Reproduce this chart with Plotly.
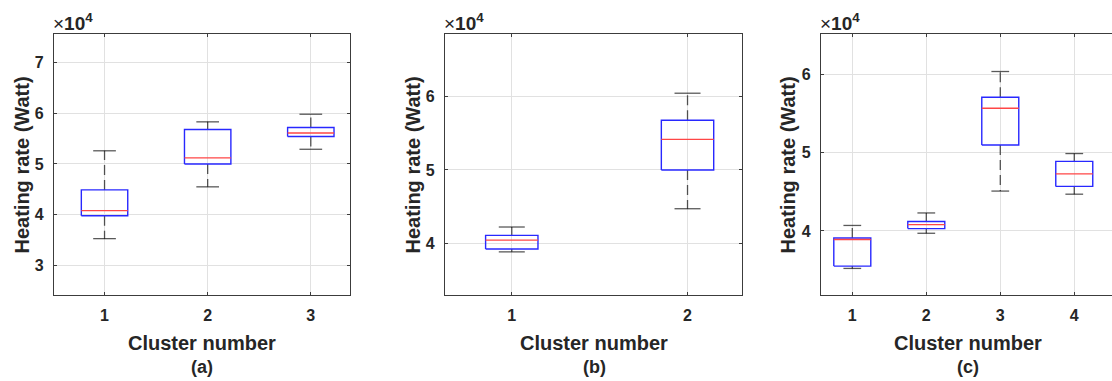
import plotly.graph_objects as go

# ---------------- data (Heating rate in Watt) ----------------
clusters_a = [1, 2, 3]
lo_a  = [35300, 45500, 52900]
q1_a  = [39800, 50000, 55400]
med_a = [40800, 51200, 56100]
q3_a  = [44900, 56800, 57200]
hi_a  = [52600, 58300, 59800]

clusters_b = [1, 2]
lo_b  = [38800, 44700]
q1_b  = [39200, 50000]
med_b = [40400, 54200]
q3_b  = [41050, 56800]
hi_b  = [42200, 60500]

clusters_c = [1, 2, 3, 4]
lo_c  = [35200, 39700, 45100, 44700]
q1_c  = [35500, 40300, 51000, 45700]
med_c = [38900, 40800, 55700, 47300]
q3_c  = [39100, 41200, 57100, 48900]
hi_c  = [40700, 42300, 60400, 49900]

yticks_a = [3, 4, 5, 6, 7]
yticks_b = [4, 5, 6]
yticks_c = [4, 5, 6]

SCALE = 1e4
panel_tags = ["(a)", "(b)", "(c)"]

# ---------------- styling ----------------
FONT = "Liberation Sans, Arial, Helvetica, sans-serif"
TXT = "#262626"
BLUE = "rgb(40,40,255)"
RED = "rgb(255,70,70)"
WHISK = "rgba(0,0,0,0.65)"
GRID = "rgb(225,225,225)"
SPINE = "rgb(60,60,60)"

panels = [
    dict(x=clusters_a, lo=lo_a, q1=q1_a, med=med_a, q3=q3_a, hi=hi_a,
         yt=yticks_a, xr=[0.51, 3.38], yr=[2.42, 7.56], dom=[54, 350],
         bw=0.225, cw=0.11, ylab_x=21.5, mirror_y=True, xc=202),
    dict(x=clusters_b, lo=lo_b, q1=q1_b, med=med_b, q3=q3_b, hi=hi_b,
         yt=yticks_b, xr=[0.62, 2.31], yr=[3.29, 6.86], dom=[445, 742],
         bw=0.149, cw=0.074, ylab_x=412.5, mirror_y=True, xc=594),
    dict(x=clusters_c, lo=lo_c, q1=q1_c, med=med_c, q3=q3_c, hi=hi_c,
         yt=yticks_c, xr=[0.577, 4.51], yr=[3.18, 6.52], dom=[821, 1112],
         bw=0.25, cw=0.12, ylab_x=787.5, mirror_y=False, xc=968),
]

W, H = 1112, 381
ytop, ybot = 34, 295
ydom = [1 - ybot / H, 1 - ytop / H]

fig = go.Figure()
layout = dict(width=W, height=H, margin=dict(l=0, r=0, t=0, b=0),
              paper_bgcolor="white", plot_bgcolor="white",
              showlegend=False, annotations=[])

for i, p in enumerate(panels):
    n = "" if i == 0 else str(i + 1)
    xa, ya = "x" + n, "y" + n
    bx, by, mx, my, wx, wy, cx, cy = [], [], [], [], [], [], [], []
    for k, c in enumerate(p["x"]):
        lo = p["lo"][k] / SCALE
        q1 = p["q1"][k] / SCALE
        md = p["med"][k] / SCALE
        q3 = p["q3"][k] / SCALE
        hi = p["hi"][k] / SCALE
        b, cw = p["bw"], p["cw"]
        bx += [c - b, c + b, c + b, c - b, c - b, None]
        by += [q1, q1, q3, q3, q1, None]
        mx += [c - b, c + b, None]
        my += [md, md, None]
        wx += [c, c, None, c, c, None]
        wy += [q3, hi, None, q1, lo, None]
        cx += [c - cw, c + cw, None, c - cw, c + cw, None]
        cy += [hi, hi, None, lo, lo, None]
    fig.add_trace(go.Scatter(x=wx, y=wy, mode="lines", xaxis=xa, yaxis=ya,
                             line=dict(color=WHISK, width=1.3, dash="10px,5px"),
                             hoverinfo="skip"))
    fig.add_trace(go.Scatter(x=cx, y=cy, mode="lines", xaxis=xa, yaxis=ya,
                             line=dict(color=WHISK, width=1.3), hoverinfo="skip"))
    fig.add_trace(go.Scatter(x=bx, y=by, mode="lines", xaxis=xa, yaxis=ya,
                             line=dict(color=BLUE, width=1.4), hoverinfo="skip"))
    fig.add_trace(go.Scatter(x=mx, y=my, mode="lines", xaxis=xa, yaxis=ya,
                             line=dict(color=RED, width=1.3), hoverinfo="skip"))

    common = dict(showline=True, linecolor=SPINE, linewidth=1.2,
                  ticks="inside", ticklen=3, tickcolor=SPINE, tickwidth=1,
                  showgrid=True, gridcolor=GRID, gridwidth=1, zeroline=False,
                  tickfont=dict(family=FONT, size=16, color=TXT, weight="bold"))
    layout["xaxis" + n] = dict(common, domain=[p["dom"][0] / W, p["dom"][1] / W],
                               range=p["xr"], tickvals=p["x"], anchor=ya,
                               mirror="ticks", ticklabelstandoff=6)
    layout["yaxis" + n] = dict(common, domain=ydom, range=p["yr"],
                               tickvals=p["yt"], anchor=xa,
                               mirror="ticks" if p["mirror_y"] else False,
                               ticklabelstandoff=6)
    xc = p["xc"] / W
    ann = layout["annotations"]
    ann.append(dict(text="Cluster number", x=xc, y=1 - 343 / H,
                    xref="paper", yref="paper", xanchor="center", yanchor="middle",
                    showarrow=False,
                    font=dict(family=FONT, size=20, color=TXT, weight="bold")))
    ann.append(dict(text=panel_tags[i], x=xc, y=1 - 367 / H,
                    xref="paper", yref="paper", xanchor="center", yanchor="middle",
                    showarrow=False,
                    font=dict(family=FONT, size=18, color=TXT, weight="bold")))
    ann.append(dict(text="Heating rate (Watt)", x=p["ylab_x"] / W,
                    y=1 - 165 / H, xref="paper", yref="paper", textangle=-90,
                    xanchor="center", yanchor="middle", showarrow=False,
                    font=dict(family=FONT, size=20, color=TXT, weight="bold")))
    ann.append(dict(text="×<b>10</b><sup><b>4</b></sup>", x=(p["dom"][0] - 3) / W,
                    y=1 - 22 / H, xref="paper", yref="paper", xanchor="left",
                    yanchor="middle", showarrow=False,
                    font=dict(family=FONT, size=19, color=TXT)))

fig.update_layout(**layout)
fig.write_html("out.html")
